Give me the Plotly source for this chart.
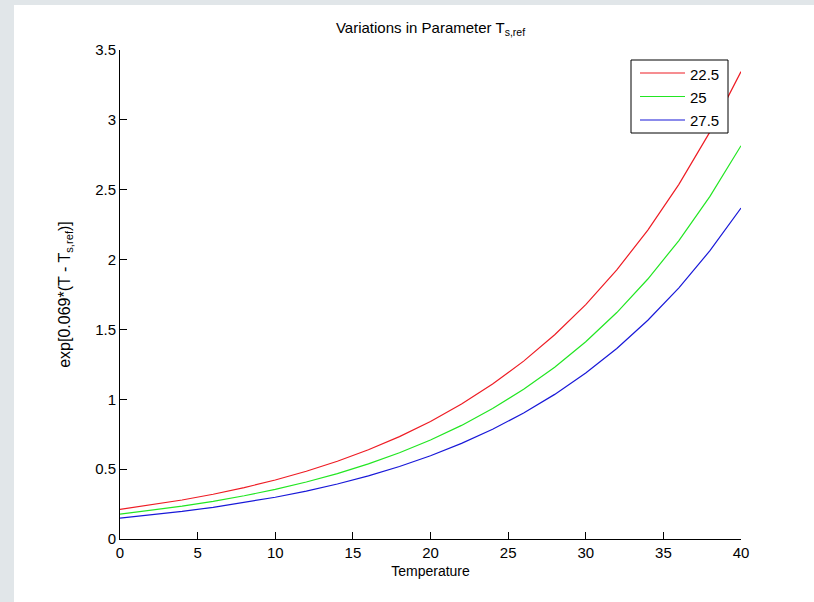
import plotly.graph_objects as go

temperature = [0, 2, 4, 6, 8, 10, 12, 14, 16, 18, 20, 22, 24, 26, 28, 30, 32, 34, 36, 38, 40]
series_names = ["22.5", "25", "27.5"]
vals_225 = [0.2117, 0.2430, 0.2790, 0.3202, 0.3676, 0.4221, 0.4846, 0.5562, 0.6386, 0.7330,
            0.8415, 0.9661, 1.1090, 1.2732, 1.4616, 1.6778, 1.9261, 2.2111, 2.5383, 2.9139, 3.3451]
vals_25 = [0.1782, 0.2045, 0.2348, 0.2695, 0.3094, 0.3552, 0.4078, 0.4681, 0.5374, 0.6169,
           0.7082, 0.8130, 0.9333, 1.0715, 1.2300, 1.4120, 1.6209, 1.8608, 2.1361, 2.4522, 2.8151]
vals_275 = [0.1500, 0.1721, 0.1976, 0.2268, 0.2604, 0.2989, 0.3432, 0.3939, 0.4523, 0.5192,
            0.5960, 0.6842, 0.7854, 0.9017, 1.0351, 1.1883, 1.3641, 1.5660, 1.7977, 2.0637, 2.3691]
x_ticks = [0, 5, 10, 15, 20, 25, 30, 35, 40]
y_ticks = [0, 0.5, 1, 1.5, 2, 2.5, 3, 3.5]
y_tick_labels = ["0", "0.5", "1", "1.5", "2", "2.5", "3", "3.5"]

colors = ["#ee1c24", "#22e622", "#1818d8"]
FONT = "Liberation Sans, Arial, sans-serif"

fig = go.Figure()
for name, vals, c in zip(series_names, [vals_225, vals_25, vals_275], colors):
    fig.add_trace(go.Scatter(x=temperature, y=vals, mode="lines", name=name,
                             line=dict(color=c, width=1.2), showlegend=False))

W, H = 814, 602
L, R, T, B = 120, 73, 50, 63
pw, ph = W - L - R, H - T - B


def px(xp):
    return (xp - L) / pw


def py(yp):
    return (H - B - yp) / ph


# white figure panel on gray window background
fig.add_shape(type="rect", xref="paper", yref="paper",
              x0=px(14), x1=px(W + 5), y0=py(H + 5), y1=py(5),
              fillcolor="white", line=dict(width=0), layer="below")

# MATLAB-style legend box
fig.add_shape(type="rect", xref="paper", yref="paper",
              x0=px(631), x1=px(728), y0=py(133), y1=py(60),
              fillcolor="white", line=dict(color="black", width=1), layer="above")
for i, (name, c) in enumerate(zip(series_names, colors)):
    yrow = 73 + i * 23.5
    fig.add_shape(type="line", xref="paper", yref="paper",
                  x0=px(640), x1=px(685), y0=py(yrow), y1=py(yrow),
                  line=dict(color=c, width=1.2), layer="above")
    fig.add_annotation(xref="paper", yref="paper", x=px(688), y=py(yrow + 1),
                       text=name, showarrow=False, xanchor="left", yanchor="middle",
                       font=dict(size=15, family=FONT, color="black"))

fig.update_layout(
    width=W, height=H,
    margin=dict(l=L, r=R, t=T, b=B),
    paper_bgcolor="#e1e6e9",
    plot_bgcolor="white",
    font=dict(family=FONT, size=15, color="black"),
    title=dict(text="Variations in Parameter T<sub>s,ref</sub>", x=(L + pw / 2) / W, xanchor="center",
               y=1 - 28 / H, yanchor="middle", font=dict(size=15, family=FONT)),
    showlegend=False,
    xaxis=dict(range=[0, 40], tickvals=x_ticks, ticks="inside", ticklen=7, tickcolor="black",
               showline=True, linecolor="black", linewidth=1, showgrid=False, zeroline=False,
               mirror=False, title=dict(text="Temperature", font=dict(size=14), standoff=6)),
    yaxis=dict(range=[0, 3.5], tickvals=y_ticks, ticktext=y_tick_labels, ticks="inside",
               ticklen=7, tickcolor="black", showline=True, linecolor="black", linewidth=1,
               showgrid=False, zeroline=False, mirror=False,
               title=dict(text="exp[0.069*(T - T<sub>s,ref</sub>)]", font=dict(size=16), standoff=20)),
)

fig.write_html("out.html")
